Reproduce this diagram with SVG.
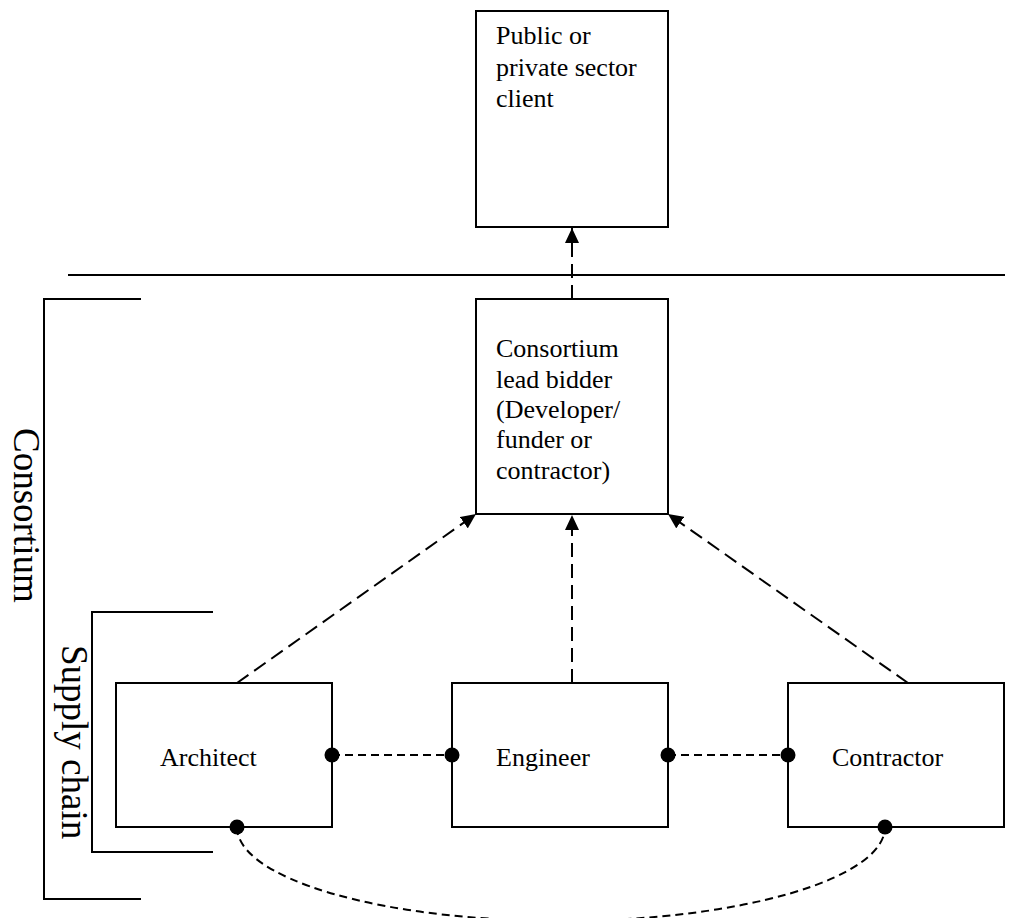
<svg xmlns="http://www.w3.org/2000/svg" width="1021" height="918" viewBox="0 0 1021 918">
<style>
  .box { fill: #fff; stroke: #000; stroke-width: 2; }
  .t { font-family: "Liberation Serif", "Times New Roman", serif; font-size: 26px; fill: #000; }
  .big { font-family: "Liberation Serif", "Times New Roman", serif; font-size: 37px; fill: #000; }
  .rule { stroke: #000; stroke-width: 2; fill: none; }
  .long { stroke: #000; stroke-width: 2; fill: none; stroke-dasharray: 14 7; }
  .short { stroke: #000; stroke-width: 2; fill: none; stroke-dasharray: 8 5; }
  .dot { fill: #000; }
</style>
<defs>
  <marker id="arr" viewBox="0 0 15 14" refX="15" refY="7" markerWidth="15" markerHeight="14" markerUnits="userSpaceOnUse" orient="auto">
    <path d="M0,0 L15,7 L0,14 z" fill="#000"/>
  </marker>
</defs>
<rect width="1021" height="918" fill="#fff"/>

<g id="separator">
  <line class="rule" x1="68" y1="275" x2="1005" y2="275"/>
</g>

<g id="consortium-bracket">
  <polyline class="rule" points="141,299 44,299 44,899 141,899"/>
  <text class="big" transform="translate(14,428) rotate(90)">Consortium</text>
</g>

<g id="supply-chain-bracket">
  <polyline class="rule" points="213,612 92,612 92,852 213,852"/>
  <text class="big" transform="translate(62,645) rotate(90)">Supply chain</text>
</g>

<g id="client">
  <rect class="box" x="476" y="11" width="192" height="216"/>
  <text class="t" x="496" y="44">Public or</text>
  <text class="t" x="496" y="76">private sector</text>
  <text class="t" x="496" y="107">client</text>
</g>

<g id="lead-bidder">
  <rect class="box" x="476" y="299" width="192" height="215"/>
  <text class="t" x="496" y="357">Consortium</text>
  <text class="t" x="496" y="388">lead bidder</text>
  <text class="t" x="496" y="418">(Developer/</text>
  <text class="t" x="496" y="448">funder or</text>
  <text class="t" x="496" y="479">contractor)</text>
</g>

<g id="architect">
  <rect class="box" x="116" y="683" width="216" height="144"/>
  <text class="t" x="160" y="766">Architect</text>
</g>

<g id="engineer">
  <rect class="box" x="452" y="683" width="216" height="144"/>
  <text class="t" x="496" y="766">Engineer</text>
</g>

<g id="contractor">
  <rect class="box" x="788" y="683" width="216" height="144"/>
  <text class="t" x="832" y="766">Contractor</text>
</g>

<g id="connectors">
  <line class="long" x1="572" y1="299" x2="572" y2="228" marker-end="url(#arr)"/>
  <line class="long" x1="572" y1="683" x2="572" y2="515" marker-end="url(#arr)"/>
  <line class="long" x1="237" y1="683" x2="476" y2="514" marker-end="url(#arr)"/>
  <line class="long" x1="908" y1="683" x2="668" y2="514" marker-end="url(#arr)"/>
  <line class="short" x1="332" y1="755" x2="452" y2="755"/>
  <line class="short" x1="668" y1="755" x2="788" y2="755"/>
  <path class="short" d="M237,827 A324,94 0 0 0 885,827"/>
  <circle class="dot" cx="332" cy="755" r="7.5"/>
  <circle class="dot" cx="452" cy="755" r="7.5"/>
  <circle class="dot" cx="668" cy="755" r="7.5"/>
  <circle class="dot" cx="788" cy="755" r="7.5"/>
  <circle class="dot" cx="237" cy="827" r="7.5"/>
  <circle class="dot" cx="885" cy="827" r="7.5"/>
</g>
</svg>
